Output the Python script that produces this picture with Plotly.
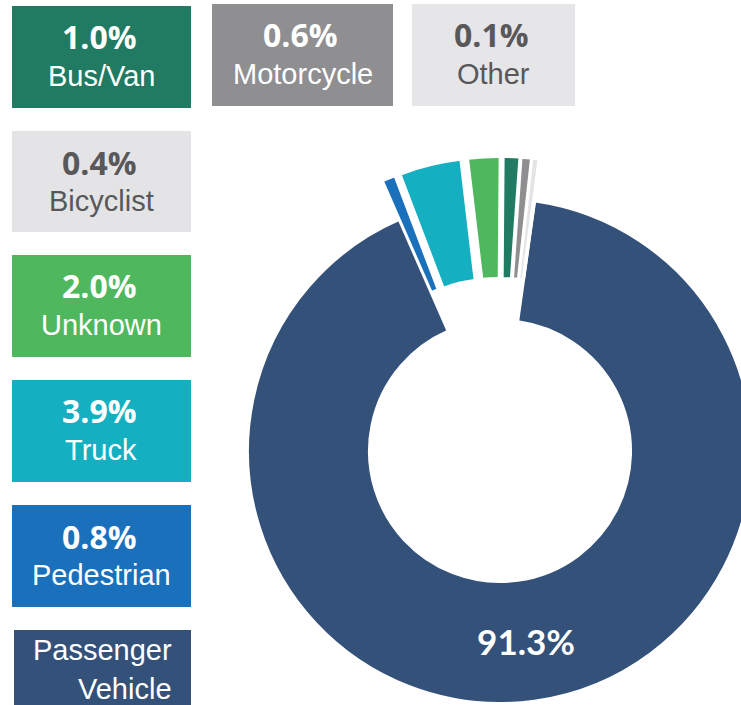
import plotly.graph_objects as go

# ---------------- data ----------------
categories = ["Passenger Vehicle", "Pedestrian", "Truck", "Unknown",
              "Bus/Van", "Motorcycle", "Bicyclist", "Other"]
shares = [91.3, 0.8, 3.9, 2.0, 1.0, 0.6, 0.4, 0.1]
slice_colors = ["#34517a", "#1b70bb", "#15afc2", "#4fb85e",
                "#217a62", "#8f8f91", "#e4e4e6", "#e6e6e8"]
box_text_colors = {"Bicyclist": "#58585a", "Other": "#58585a"}

# ---------------- layout constants ----------------
W, H = 800, 760          # figure larger than the 741x705 window -> ring is cropped at right/bottom
CX, CY, R = 500, 451, 252
PULL = 0.167
HOLE = 0.52

# legend boxes (pixel rectangles: x0, y0, x1, y1)
boxes = {
    "Bus/Van":           (12, 6, 191, 108),
    "Motorcycle":        (212, 4, 393, 106),
    "Other":             (412, 4, 575, 106),
    "Bicyclist":         (12, 131, 191, 232),
    "Unknown":           (12, 255, 191, 357),
    "Truck":             (12, 380, 191, 482),
    "Pedestrian":        (12, 505, 191, 607),
    "Passenger Vehicle": (14, 630, 191, 740),
}

def px(x):
    return x / W

def py(y):
    return 1 - y / H

color_of = dict(zip(categories, slice_colors))
share_of = dict(zip(categories, shares))

pulls = [0 if c == "Passenger Vehicle" else PULL for c in categories]
templates = ["%{value:.1f}%" if c == "Passenger Vehicle" else "" for c in categories]

half = R * (1 + PULL)
fig = go.Figure(go.Pie(
    labels=categories,
    values=shares,
    sort=False,
    direction="clockwise",
    rotation=8,
    hole=HOLE,
    pull=pulls,
    marker=dict(colors=slice_colors, line=dict(color="white", width=2)),
    texttemplate=templates,
    textposition="inside",
    insidetextorientation="horizontal",
    textfont=dict(family="Lato", size=35, color="white", weight="bold"),
    hoverinfo="skip",
    showlegend=False,
    domain=dict(x=[px(CX - half), px(CX + half)],
                y=[py(CY + half), py(CY - half)]),
))

shapes = []
annotations = []
for cat, (x0, y0, x1, y1) in boxes.items():
    shapes.append(dict(type="rect", xref="paper", yref="paper",
                       x0=px(x0), x1=px(x1), y0=py(y1), y1=py(y0),
                       fillcolor=color_of[cat], line=dict(width=0), layer="below"))
    tcol = box_text_colors.get(cat, "white")
    xc = (x0 + x1) / 2
    if cat == "Passenger Vehicle":
        words = cat.split(" ")
        for i, w in enumerate(words):
            annotations.append(dict(
                x=px(174), y=py(y0 + 20 + 39 * i), xref="paper", yref="paper",
                xanchor="right", yanchor="middle", showarrow=False, text=w,
                font=dict(family="Liberation Sans", size=29, color=tcol)))
    else:
        annotations.append(dict(
            x=px(xc - 2), y=py(y0 + 31), xref="paper", yref="paper",
            xanchor="center", yanchor="middle", showarrow=False,
            text=f"{share_of[cat]:.1f}%",
            font=dict(family="Open Sans", size=32, color=tcol, weight="bold")))
        annotations.append(dict(
            x=px(xc), y=py(y0 + 70), xref="paper", yref="paper",
            xanchor="center", yanchor="middle", showarrow=False, text=cat,
            font=dict(family="Liberation Sans", size=29, color=tcol)))

fig.update_layout(
    width=W, height=H, autosize=False,
    margin=dict(l=0, r=0, t=0, b=0, pad=0),
    paper_bgcolor="white", plot_bgcolor="white",
    shapes=shapes, annotations=annotations,
)

fig.write_html("out.html",
               post_script="document.body.style.margin='0px';document.body.style.overflow='hidden';")
